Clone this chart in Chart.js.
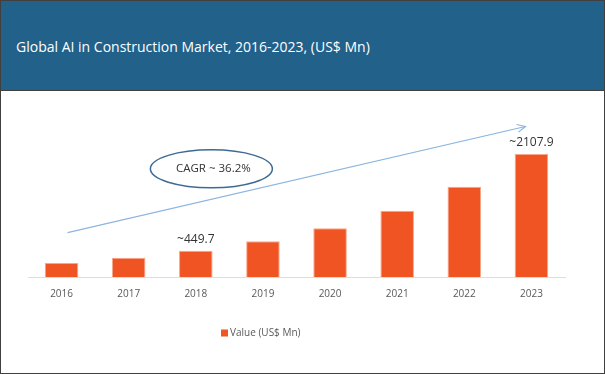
<!DOCTYPE html>
<html>
<head>
<meta charset="utf-8">
<script src="https://cdn.jsdelivr.net/npm/chart.js@4"></script>
<style>
  html, body { margin: 0; padding: 0; background: #fff; }
  #frame {
    position: absolute; left: 0; top: 0;
    width: 603px; height: 372px;
    border: 1px solid #404040;
    background: #fff;
  }
  #header {
    height: 89px;
    background: #22618a;
    border-bottom: 1px solid #404040;
    color: #fff;
    font-family: "Open Sans", sans-serif;
    font-size: 14px;
    line-height: 91px;
    padding-left: 15px;
    box-sizing: content-box;
  }
  #wrap { position: absolute; left: 0; top: 90px; width: 603px; height: 282px; }
</style>
</head>
<body>
<div id="frame">
  <div id="header">Global AI in Construction Market, 2016-2023, (US$ Mn)</div>
  <div id="wrap"><canvas id="chart"></canvas></div>
</div>
<script>
const years = ['2016', '2017', '2018', '2019', '2020', '2021', '2022', '2023'];
const values = [242, 330, 449.7, 612, 834, 1136, 1548, 2107.9];
const seriesName = 'Value (US$ Mn)';
// labels shown above some bars
const callouts = { 2: '~449.7', 7: '~2107.9' };
const cagrText = 'CAGR ~ 36.2%';

const FONT = '"Open Sans", sans-serif';

// draws the value callouts, the CAGR arrow + ellipse, and the legend
const extras = {
  id: 'extras',
  afterDatasetsDraw(chart) {
    const c = chart.ctx;
    const xs = chart.scales.x;
    const ys = chart.scales.y;
    const meta = chart.getDatasetMeta(0);

    c.save();
    c.fillStyle = '#333';
    c.font = '12px ' + FONT;
    c.textAlign = 'center';
    c.textBaseline = 'bottom';
    Object.keys(callouts).forEach(i => {
      const bar = meta.data[i];
      c.fillText(callouts[i], bar.x, bar.y - 5);
    });

    // growth arrow
    const x1 = xs.getPixelForValue(0) + 6, y1 = ys.getPixelForValue(760);
    const x2 = xs.getPixelForValue(7) - 6, y2 = ys.getPixelForValue(2580);
    c.strokeStyle = '#8bb5e0';
    c.lineWidth = 1.2;
    c.beginPath();
    c.moveTo(x1, y1);
    c.lineTo(x2, y2);
    c.stroke();
    const ang = Math.atan2(y2 - y1, x2 - x1);
    c.beginPath();
    c.moveTo(x2 - 9 * Math.cos(ang - 0.45), y2 - 9 * Math.sin(ang - 0.45));
    c.lineTo(x2, y2);
    c.lineTo(x2 - 9 * Math.cos(ang + 0.45), y2 - 9 * Math.sin(ang + 0.45));
    c.stroke();

    // CAGR ellipse
    const ex = (xs.getPixelForValue(2) + xs.getPixelForValue(3)) / 2 - 18;
    const ey = ys.getPixelForValue(1855);
    c.strokeStyle = '#3e6a94';
    c.lineWidth = 1.5;
    c.beginPath();
    c.ellipse(ex, ey, 61, 19, 0, 0, Math.PI * 2);
    c.stroke();
    c.fillStyle = '#333';
    c.font = '11.5px ' + FONT;
    c.textBaseline = 'middle';
    c.fillText(cagrText, ex + 2, ey);

    // legend
    c.font = '10px ' + FONT;
    const lx = xs.left + 193;
    const ly = ys.bottom + 56;
    c.fillStyle = '#f05423';
    c.fillRect(lx, ly - 3.5, 7, 7);
    c.fillStyle = '#595959';
    c.textAlign = 'left';
    c.fillText(seriesName, lx + 9, ly);
    c.restore();
  }
};

const ctx = document.getElementById('chart').getContext('2d');
const chart = new Chart(ctx, {
  type: 'bar',
  data: {
    labels: years,
    datasets: [{
      label: seriesName,
      data: values,
      backgroundColor: '#f05423',
      borderColor: '#f7a78a',
      borderWidth: 1,
      categoryPercentage: 1,
      barPercentage: 0.5
    }]
  },
  options: {
    responsive: true,
    maintainAspectRatio: false,
    animation: false,
    layout: { padding: { left: 27, right: 39, top: 11, bottom: 70 } },
    plugins: { legend: { display: false }, tooltip: { enabled: false } },
    scales: {
      x: {
        grid: { display: false },
        border: { display: true, color: '#d9dee6', width: 1 },
        ticks: { color: '#595959', font: { family: FONT, size: 10 }, padding: 3 }
      },
      y: { display: false, min: 0, max: 3000 }
    }
  },
  plugins: [extras]
});
</script>
</body>
</html>
